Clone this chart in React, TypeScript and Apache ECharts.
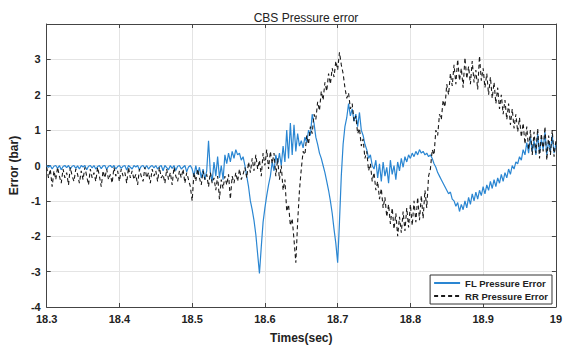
import React, { useEffect, useRef } from "react";
import * as echarts from "echarts";

const T0 = 18.3;
const DT = 0.0025;

const flPressureError: number[] = [
  0.0, -0.05, 0.0, -0.1, -0.02, 0.0, -0.08, 0.0, -0.12, -0.03, 0.0, -0.06, 0.0, -0.1, -0.02, 0.0, -0.08, -0.01, -0.1, 0.0,
  -0.04, 0.0, -0.12, -0.02, 0.0, -0.07, 0.0, -0.1, -0.03, 0.0, -0.09, -0.01, 0.0, -0.11, -0.02, 0.0, -0.06, 0.0, -0.1, -0.03,
  0.0, -0.08, -0.02, 0.0, -0.13, 0.0, -0.05, -0.1, 0.0, -0.04, 0.0, -0.12, -0.02, 0.0, -0.08, 0.0, -0.1, -0.03, 0.0, -0.07,
  0.0, -0.1, -0.03, 0.0, -0.15, 0.0, -0.06, -0.12, 0.0, -0.08, 0.0, -0.14, -0.02, 0.0, -0.1, -0.05, 0.0, -0.18, -0.04, 0.0,
  -0.1, -0.3, 0.0, -0.25, -0.05, -0.35, -0.1, -0.4, -0.15, 0.7, -0.2, -0.45, 0.1, -0.3, 0.25, -0.35, 0.0, -0.4, 0.3, 0.05,
  0.35, 0.1, 0.4, 0.2, 0.45, 0.3, 0.35, 0.15, 0.25, 0.0, -0.3, -0.6, -1.0, -1.25, -1.55, -1.95, -2.5, -3.05, -2.3, -1.6,
  -1.2, -0.85, -0.55, -0.3, 0.1, -0.15, 0.3, 0.05, 0.35, 0.0, 0.55, 0.1, 1.0, 0.2, 1.2, 0.3, 1.15, 0.4, 0.9, 0.55,
  0.7, 0.5, 0.8, 0.65, 1.0, 0.85, 1.45, 1.2, 0.8, 0.6, 0.35, 0.2, 0.0, -0.2, -0.45, -0.7, -1.0, -1.35, -1.8, -2.2,
  -2.75, -1.6, -0.3, 0.6, 1.1, 1.35, 1.75, 1.4, 1.6, 1.25, 1.45, 1.1, 1.5, 1.0, 0.85, 0.6, 0.45, 0.2, 0.3, 0.0,
  -0.1, 0.15, -0.35, 0.05, -0.45, 0.1, -0.3, -0.05, -0.5, 0.15, -0.25, 0.0, -0.4, 0.1, -0.15, 0.2, -0.05, 0.25, 0.1, 0.3,
  0.2, 0.35, 0.25, 0.4, 0.3, 0.45, 0.35, 0.4, 0.3, 0.35, 0.25, 0.3, 0.2, 0.05, -0.05, -0.2, -0.3, -0.4, -0.5, -0.6,
  -0.7, -0.8, -0.75, -0.95, -1.0, -1.15, -1.05, -1.3, -1.1, -1.25, -1.0, -1.2, -0.9, -1.1, -0.8, -1.0, -0.75, -0.95, -0.7, -0.85,
  -0.6, -0.8, -0.55, -0.7, -0.45, -0.65, -0.4, -0.6, -0.35, -0.5, -0.25, -0.45, -0.2, -0.35, -0.1, -0.25, 0.0, -0.1, 0.1, 0.05,
  0.25, 0.15, 0.45, 0.3, 0.65, 0.35, 0.8, 0.4, 0.7, 0.3, 0.9, 0.35, 0.75, 0.45, 0.95, 0.3, 0.7, 0.4, 0.85, 0.35, 0.6,
];

const rrPressureError: number[] = [
  -0.05, -0.35, -0.1, -0.6, -0.15, -0.4, -0.05, -0.3, -0.5, -0.1, -0.35, -0.2, -0.55, -0.05, -0.3, -0.45, -0.1, -0.25, -0.5, -0.15,
  -0.4, -0.05, -0.3, -0.55, -0.1, -0.35, -0.2, -0.45, -0.05, -0.3, -0.6, -0.15, -0.35, -0.1, -0.4, -0.25, -0.5, -0.05, -0.3, -0.15,
  -0.45, -0.1, -0.3, -0.2, -0.5, -0.05, -0.35, -0.15, -0.4, -0.25, -0.55, -0.1, -0.3, -0.45, -0.05, -0.35, -0.2, -0.5, -0.1, -0.3,
  -0.15, -0.45, -0.05, -0.35, -0.25, -0.5, -0.1, -0.4, -0.2, -0.55, -0.05, -0.3, -0.45, -0.15, -0.35, -0.1, -0.5, -0.2, -0.4, -0.6,
  -1.0, -0.2, -0.45, -0.1, -0.35, -0.55, -0.15, -0.4, -0.25, -0.6, -0.2, -0.5, -0.35, -0.7, -0.3, -0.95, -0.4, -0.65, -0.3, -0.55,
  -0.25, -0.95, -0.3, -0.5, -0.2, -0.45, -0.1, -0.4, -0.25, -0.05, -0.35, 0.1, -0.2, 0.2, -0.15, 0.3, -0.1, 0.15, -0.3, 0.35,
  0.0, 0.45, -0.1, 0.4, 0.05, 0.35, -0.3, 0.2, -0.4, 0.0, -0.7, -0.4, -1.3, -1.1, -1.7, -1.5, -2.1, -2.75, -1.6, -0.7,
  -0.1, 0.4, 0.3, 0.85, 0.6, 1.1, 0.9, 1.45, 1.3, 1.8, 1.55, 2.1, 1.85, 2.35, 2.1, 2.6, 2.3, 2.75, 2.5, 2.95,
  2.7, 3.2, 2.85, 2.6, 2.2, 1.9, 2.05, 1.6, 1.75, 1.25, 1.4, 0.9, 1.05, 0.55, 0.75, 0.2, 0.4, -0.15, 0.05, -0.45,
  -0.2, -0.7, -0.45, -0.95, -0.65, -1.2, -0.9, -1.45, -1.1, -1.65, -1.2, -1.8, -1.35, -2.0, -1.45, -1.9, -1.3, -1.85, -1.2, -1.75,
  -1.1, -1.7, -1.0, -1.6, -0.9, -1.55, -0.85, -1.5, -0.7, -1.2, -0.3, -0.1, 0.45, 0.3, 1.0, 0.85, 1.45, 1.3, 1.85, 1.65,
  2.3, 2.0, 2.6, 2.25, 2.85, 2.3, 3.0, 2.4, 2.75, 2.2, 3.05, 2.45, 2.8, 2.3, 2.95, 2.35, 2.7, 2.15, 3.1, 2.4,
  2.75, 2.2, 2.6, 2.0, 2.5, 1.9, 2.35, 1.75, 2.2, 1.6, 2.0, 1.45, 1.85, 1.3, 1.75, 1.15, 1.6, 1.05, 1.45, 0.95,
  1.35, 0.8, 1.2, 0.6, 1.1, 0.45, 1.0, 0.3, 0.95, 0.35, 1.05, 0.2, 0.9, 0.4, 1.1, 0.15, 0.85, 0.3, 1.0, 0.25, 0.7,
];

const seriesNames = ["FL Pressure Error", "RR Pressure Error"];
const titleText = "CBS Pressure error";
const xName = "Times(sec)";
const yName = "Error (bar)";

const FONT = "Liberation Sans, Arial, sans-serif";

export default function App() {
  const ref = useRef<HTMLDivElement>(null);
  useEffect(() => {
    if (!ref.current) return;
    const chart = echarts.init(ref.current, undefined, { renderer: "svg" });
    const fl = flPressureError.map((v, i) => [T0 + i * DT, v]);
    const rr = rrPressureError.map((v, i) => [T0 + i * DT, v]);
    const axisLine = { show: true, onZero: false, lineStyle: { color: "#444", width: 1 } };
    const tick = { show: true, inside: true, length: 4, lineStyle: { color: "#444" } };
    chart.setOption({
      animation: false,
      backgroundColor: "#fff",
      title: {
        text: titleText,
        left: 301,
        textAlign: "center",
        top: 7,
        textStyle: { fontFamily: FONT, fontSize: 12, fontWeight: "normal", color: "#222" },
      },
      grid: { left: 45, right: 8, top: 24, bottom: 34, containLabel: false },
      legend: {
        data: seriesNames,
        orient: "vertical",
        right: 13,
        bottom: 45,
        itemWidth: 26,
        itemHeight: 10,
        itemGap: 3,
        padding: [3, 4, 3, 3],
        borderColor: "#333",
        borderWidth: 1,
        backgroundColor: "#fff",
        itemStyle: { opacity: 0, color: "transparent", borderWidth: 0 },
        textStyle: { fontFamily: FONT, fontSize: 9.5, fontWeight: "bold", color: "#222" },
      },
      xAxis: [
        {
          type: "value",
          min: 18.3,
          max: 19,
          interval: 0.1,
          name: xName,
          nameLocation: "middle",
          nameGap: 25,
          nameTextStyle: { fontFamily: FONT, fontSize: 12, fontWeight: "bold", color: "#222" },
          axisLine,
          axisTick: tick,
          axisLabel: {
            fontFamily: FONT,
            fontSize: 11,
            fontWeight: "bold",
            color: "#222",
            margin: 6,
            formatter: (v: number) => String(Number(v.toFixed(1))),
          },
          splitLine: { show: true, lineStyle: { color: "#e4e4e4", width: 1 } },
        },
        {
          type: "value",
          position: "top",
          min: 18.3,
          max: 19,
          interval: 0.1,
          axisLine,
          axisTick: tick,
          axisLabel: { show: false },
          splitLine: { show: false },
        },
      ],
      yAxis: [
        {
          type: "value",
          min: -4,
          max: 4,
          interval: 1,
          name: yName,
          nameLocation: "middle",
          nameGap: 19,
          nameTextStyle: { fontFamily: FONT, fontSize: 12, fontWeight: "bold", color: "#222" },
          axisLine,
          axisTick: tick,
          axisLabel: {
            fontFamily: FONT,
            fontSize: 11,
            fontWeight: "bold",
            color: "#222",
            margin: 6,
            formatter: (v: number) => (v >= 4 ? "" : String(v)),
          },
          splitLine: { show: true, lineStyle: { color: "#e4e4e4", width: 1 } },
        },
        {
          type: "value",
          position: "right",
          min: -4,
          max: 4,
          interval: 1,
          axisLine,
          axisTick: tick,
          axisLabel: { show: false },
          splitLine: { show: false },
        },
      ],
      series: [
        {
          name: seriesNames[0],
          type: "line",
          data: fl,
          symbol: "none",
          lineStyle: { color: "#2a86d2", width: 1.2 },
          itemStyle: { color: "#2a86d2" },
          z: 2,
        },
        {
          name: seriesNames[1],
          type: "line",
          data: rr,
          symbol: "none",
          lineStyle: { color: "#1a1a1a", width: 1.1, type: [4, 3] },
          itemStyle: { color: "#1a1a1a" },
          z: 3,
        },
      ],
    });
    return () => chart.dispose();
  }, []);
  return <div ref={ref} style={{ position: "fixed", left: 0, top: 0, width: 565, height: 349 }} />;
}
